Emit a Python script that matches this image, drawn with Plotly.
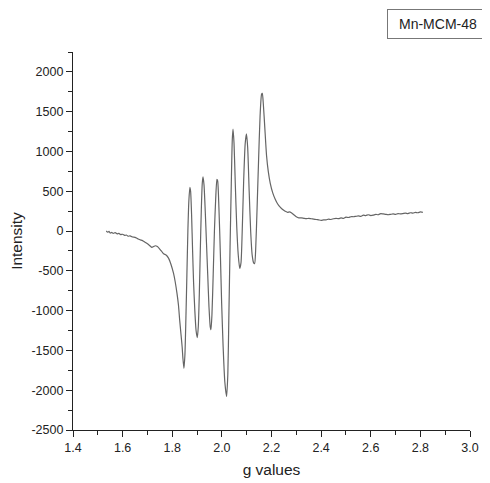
import plotly.graph_objects as go

g_values = [1.534, 1.540, 1.545, 1.550, 1.556, 1.562, 1.570, 1.578, 1.585, 1.592,
            1.600, 1.608, 1.615, 1.622, 1.630, 1.640, 1.650, 1.660, 1.670, 1.680,
            1.690, 1.700, 1.710, 1.718, 1.725, 1.732, 1.740, 1.748, 1.756, 1.765,
            1.775, 1.785, 1.795, 1.805, 1.812, 1.819, 1.825, 1.830, 1.835, 1.840,
            1.843, 1.847, 1.851, 1.855, 1.859, 1.863, 1.867, 1.871, 1.874, 1.878,
            1.882, 1.886, 1.891, 1.896, 1.901, 1.905, 1.909, 1.913, 1.917, 1.921,
            1.924, 1.928, 1.933, 1.938, 1.943, 1.948, 1.953, 1.956, 1.960, 1.965,
            1.970, 1.975, 1.980, 1.983, 1.988, 1.994, 1.999, 2.005, 2.012, 2.019,
            2.024, 2.028, 2.033, 2.038, 2.042, 2.045, 2.049, 2.054, 2.060, 2.066,
            2.072, 2.077, 2.082, 2.088, 2.094, 2.099, 2.104, 2.110, 2.116, 2.122,
            2.128, 2.132, 2.136, 2.142, 2.148, 2.154, 2.160, 2.163, 2.167, 2.173,
            2.180, 2.187, 2.195, 2.205, 2.215, 2.225, 2.235, 2.245, 2.255, 2.265,
            2.272, 2.280, 2.290, 2.300, 2.310, 2.320, 2.330, 2.340, 2.350, 2.360,
            2.370, 2.380, 2.390, 2.400, 2.410, 2.420, 2.430, 2.440, 2.450, 2.460,
            2.470, 2.480, 2.490, 2.500, 2.510, 2.520, 2.530, 2.540, 2.550, 2.560,
            2.570, 2.580, 2.590, 2.600, 2.610, 2.620, 2.630, 2.640, 2.650, 2.660,
            2.670, 2.680, 2.690, 2.700, 2.710, 2.720, 2.730, 2.740, 2.750, 2.760,
            2.770, 2.780, 2.790, 2.800, 2.810]

intensity = [0, -15, -5, -25, -15, -30, -20, -35, -30, -45,
             -40, -55, -50, -65, -60, -75, -80, -95, -110, -120,
             -140, -160, -185, -205, -195, -185, -195, -220, -250, -285,
             -300, -340, -420, -530, -640, -780, -930, -1120, -1290, -1460,
             -1600, -1725, -1560, -1100, -550, 0, 380, 550, 500, 200,
             -250, -650, -1000, -1250, -1340, -1200, -800, -250, 250, 600,
             680, 580, 250, -150, -550, -950, -1200, -1240, -1050, -550,
             0, 400, 650, 630, 300, -300, -900, -1450, -1900, -2080,
             -1800, -1100, -200, 600, 1150, 1280, 1100, 600, 50, -300,
             -470, -400, 0, 650, 1100, 1220, 1050, 500, 0, -300,
             -400, -410, -250, 300, 900, 1450, 1720, 1730, 1600, 1300,
             950, 750, 600, 480, 400, 340, 300, 270, 250, 235,
             240, 230, 205, 180, 165, 165, 160, 155, 160, 155,
             150, 145, 140, 135, 140, 140, 150, 145, 155, 160,
             155, 165, 160, 175, 170, 180, 180, 185, 190, 185,
             200, 195, 205, 195, 200, 210, 205, 220, 215, 210,
             205, 210, 215, 210, 220, 215, 220, 225, 220, 230,
             225, 235, 230, 240, 235]

x_ticks = [1.4, 1.6, 1.8, 2.0, 2.2, 2.4, 2.6, 2.8, 3.0]
x_tick_labels = ["1.4", "1.6", "1.8", "2.0", "2.2", "2.4", "2.6", "2.8", "3.0"]
y_ticks = [-2500, -2000, -1500, -1000, -500, 0, 500, 1000, 1500, 2000]
y_tick_labels = ["-2500", "-2000", "-1500", "-1000", "-500", "0", "500", "1000", "1500", "2000"]

fig = go.Figure()
fig.add_trace(go.Scatter(x=g_values, y=intensity, mode="lines",
                         line=dict(color="#656565", width=1.2, shape="spline", smoothing=0.6),
                         showlegend=False))

font = dict(family="Liberation Sans, Arial, sans-serif", color="#222222")

fig.update_layout(
    width=482, height=475,
    margin=dict(l=65, r=20, t=44, b=53),
    paper_bgcolor="white", plot_bgcolor="white",
    font=font,
    xaxis=dict(range=[1.4, 3.0], tickvals=x_ticks, ticktext=x_tick_labels, automargin=False,
               showgrid=False, zeroline=False, showline=True, linecolor="#222222", linewidth=1.2,
               ticks="outside", ticklen=6, tickcolor="#222222", tickwidth=1.2,
               minor=dict(dtick=0.1, tick0=1.4, ticks="outside", ticklen=4, tickcolor="#222222"),
               tickfont=dict(size=12.5, **font),
               title=dict(text="g values", font=dict(size=15.5, **font), standoff=10)),
    yaxis=dict(range=[-2500, 2250], tickvals=y_ticks, ticktext=y_tick_labels, automargin=False,
               showgrid=False, zeroline=False, showline=True, linecolor="#222222", linewidth=1.2,
               ticks="outside", ticklen=6, tickcolor="#222222", tickwidth=1.2,
               minor=dict(dtick=250, tick0=-2500, ticks="outside", ticklen=4, tickcolor="#222222"),
               tickfont=dict(size=12.5, **font),
               title=dict(text="Intensity", font=dict(size=15.5, **font), standoff=6)),
)

fig.add_annotation(text="Mn-MCM-48", xref="paper", yref="paper",
                   x=1.047, y=1.114, xanchor="right", yanchor="top",
                   showarrow=False, font=dict(size=14, **font),
                   bordercolor="#777777", borderwidth=1, borderpad=3,
                   width=94, height=22, bgcolor="white")

fig.write_html("out.html")
